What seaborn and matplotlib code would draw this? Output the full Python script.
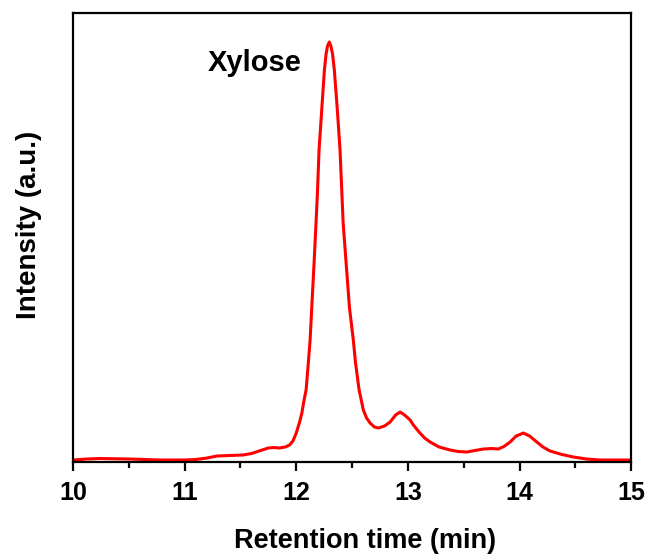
import matplotlib
matplotlib.use("Agg")
import matplotlib.pyplot as plt
from matplotlib.ticker import MultipleLocator
import pandas as pd
import seaborn as sns

# Chromatogram trace: retention time (min) vs detector intensity (a.u.)
retention_time = [
    10.00, 10.12, 10.24, 10.40, 10.51, 10.78, 10.99, 11.10, 11.20, 11.29,
    11.40, 11.52, 11.60, 11.68, 11.75, 11.80, 11.85, 11.90, 11.94, 11.97,
    12.00, 12.03, 12.05, 12.07, 12.088, 12.105, 12.124, 12.139, 12.16, 12.177,
    12.19, 12.204, 12.228, 12.252, 12.267, 12.28, 12.296, 12.31, 12.325, 12.341,
    12.368, 12.392, 12.42, 12.476, 12.511, 12.53, 12.563, 12.601, 12.63, 12.661,
    12.70, 12.736, 12.79, 12.841, 12.89, 12.93, 12.97, 13.02, 13.049, 13.10,
    13.15, 13.199, 13.28, 13.378, 13.45, 13.528, 13.60, 13.677, 13.75, 13.811,
    13.86, 13.916, 13.97, 14.035, 14.09, 14.155, 14.21, 14.274, 14.38, 14.483,
    14.60, 14.722, 15.00,
]
intensity = [
    2, 3, 3.5, 3.2, 3, 2, 2, 2.5, 4, 6,
    6.5, 7, 8.5, 11.5, 14, 14.5, 14, 15, 17, 21,
    29, 40, 49, 62, 72, 95, 122, 155, 200, 239,
    270, 312, 352, 392, 408, 416, 420, 416, 408, 392,
    352, 312, 239, 155, 122, 100, 72, 52, 44, 39,
    35, 34, 36, 40, 47, 50, 47, 42, 37, 30,
    24, 20, 15, 12, 10.5, 10, 11.5, 13, 13.5, 13,
    15.5, 20, 26, 29, 26, 20, 15, 11, 7.5, 5,
    3, 2, 2,
]
x_ticks = [10, 11, 12, 13, 14, 15]
peak_label = "Xylose"

df = pd.DataFrame({"time": retention_time, "signal": intensity})

sns.set_style("ticks")
plt.rcParams["font.family"] = ["Liberation Sans", "DejaVu Sans"]
plt.rcParams["font.weight"] = "bold"
plt.rcParams["text.color"] = "black"
plt.rcParams["axes.labelcolor"] = "black"
plt.rcParams["xtick.color"] = "black"

fig = plt.figure(figsize=(6.52, 5.59), dpi=100)
ax = fig.add_axes([0.112, 0.1735, 0.856, 0.8032])

sns.lineplot(data=df, x="time", y="signal", ax=ax, color="#ff0000",
             linewidth=2.2, sort=False, solid_joinstyle="round")

ax.set_xlim(10, 15)
ax.set_ylim(0, 449)
ax.set_xticks(x_ticks)
ax.set_xticklabels([str(t) for t in x_ticks])
ax.xaxis.set_minor_locator(MultipleLocator(0.5))
ax.set_yticks([])

for side in ["left", "right", "top", "bottom"]:
    ax.spines[side].set_visible(True)
    ax.spines[side].set_linewidth(1.6)
    ax.spines[side].set_color("black")

ax.tick_params(axis="x", which="major", direction="out", length=6.5, width=1.6,
               labelsize=18, pad=7)
ax.tick_params(axis="x", which="minor", direction="out", length=4, width=1.6)
for lab in ax.get_xticklabels():
    lab.set_fontweight("bold")

ax.set_xlabel("Retention time (min)", fontsize=19.5, fontweight="bold")
ax.set_ylabel("Intensity (a.u.)", fontsize=20, fontweight="bold")
ax.xaxis.set_label_coords(0.523, -0.148)
ax.yaxis.set_label_coords(-0.056, 0.528)

ax.text(11.21, 399, peak_label, fontsize=21, fontweight="bold",
        ha="left", va="center")

fig.savefig("out.png", dpi=100)
